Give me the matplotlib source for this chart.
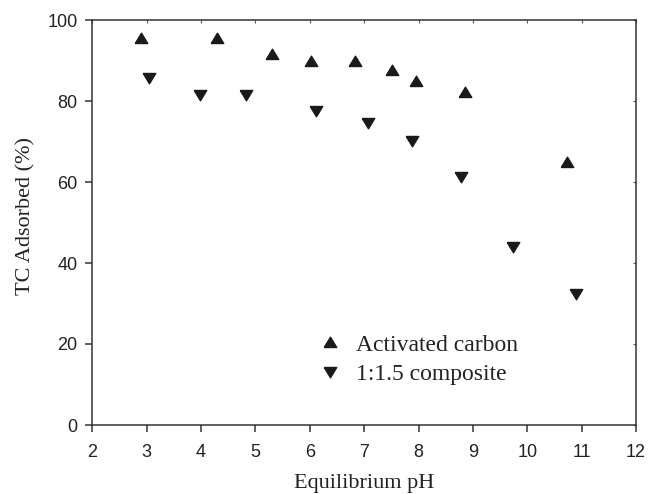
import matplotlib
matplotlib.use("Agg")
import matplotlib.pyplot as plt

# Data
ac_ph = [2.89, 4.29, 5.30, 6.02, 6.83, 7.52, 7.95, 8.86, 10.74]
ac_ads = [95.6, 95.6, 91.5, 89.9, 89.9, 87.7, 84.9, 82.3, 64.9]
comp_ph = [3.04, 3.98, 4.83, 6.11, 7.08, 7.88, 8.79, 9.74, 10.90]
comp_ads = [85.8, 81.6, 81.6, 77.5, 74.6, 70.1, 61.3, 44.0, 32.3]
series_labels = ["Activated carbon", "1:1.5 composite"]
x_ticks = [2, 3, 4, 5, 6, 7, 8, 9, 10, 11, 12]
y_ticks = [0, 20, 40, 60, 80, 100]

serif = ["Liberation Serif", "DejaVu Serif"]
sans = ["Liberation Sans", "DejaVu Sans"]

fig = plt.figure(figsize=(6.49, 4.94), dpi=100)
ax = fig.add_axes([92.3/649, 1-425/494, (636-92.3)/649, (425-20)/494])

up = [(-1, -0.8), (1, -0.8), (0, 0.85), (-1, -0.8)]
down = [(-1, 0.8), (1, 0.8), (0, -0.85), (-1, 0.8)]
ax.plot(ac_ph, ac_ads, linestyle="none", marker=up, ms=9, color="#1a1a1a",
        mec="#1a1a1a", label=series_labels[0])
ax.plot(comp_ph, comp_ads, linestyle="none", marker=down, ms=9, color="#1a1a1a",
        mec="#1a1a1a", label=series_labels[1])

ax.set_xlim(2, 12)
ax.set_ylim(0, 100)
ax.set_xticks(x_ticks)
ax.set_yticks(y_ticks)
for s in ax.spines.values():
    s.set_linewidth(1.1)
    s.set_color("#333333")
ax.tick_params(axis="both", which="major", direction="out", length=5, width=1.1,
               color="#333333", labelsize=13)
ax.tick_params(axis="x", pad=8.5)
ax.tick_params(axis="y", pad=5.5)
for lab in ax.get_xticklabels() + ax.get_yticklabels():
    lab.set_family(sans)
    lab.set_color("#222222")

# inward ticks on top and right
secx = ax.secondary_xaxis("top")
secx.set_xticks(x_ticks)
secx.tick_params(direction="in", length=2.5, width=0.8, color="#555555")
secx.set_xticklabels([])
secy = ax.secondary_yaxis("right")
secy.set_yticks(y_ticks)
secy.tick_params(direction="in", length=2.5, width=0.8, color="#555555")
secy.set_yticklabels([])
secx.spines["top"].set_visible(False)
secy.spines["right"].set_visible(False)

ax.set_xlabel("Equilibrium pH", family=serif, fontsize=16, labelpad=9.5, color="#222222")
ax.set_ylabel("TC Adsorbed (%)", family=serif, fontsize=16, color="#222222")
ax.yaxis.set_label_coords(-0.104, 0.516)

leg = ax.legend(loc="upper left", bbox_to_anchor=(316/649, 1-334/494),
                bbox_transform=fig.transFigure, frameon=False,
                prop={"family": serif, "size": 17}, handlelength=1.2,
                handletextpad=0.5, borderpad=0, borderaxespad=0, labelspacing=0.33)
for t in leg.get_texts():
    t.set_color("#222222")

fig.savefig("out.png", dpi=100)
